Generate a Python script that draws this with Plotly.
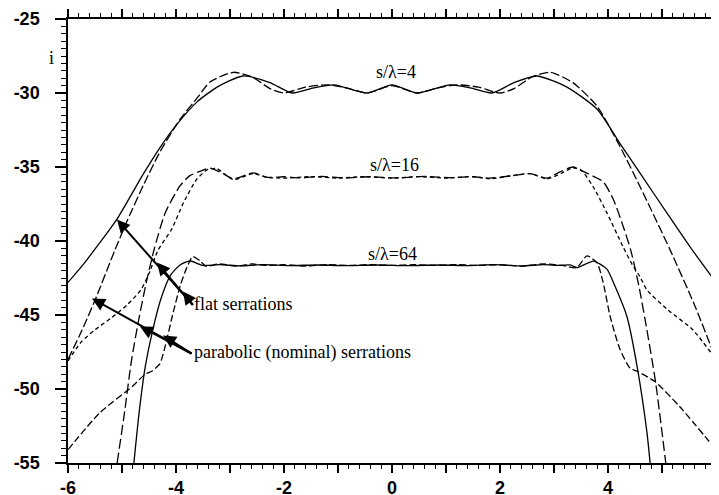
import plotly.graph_objects as go

# s/lambda = 4, flat serrations (solid)
a_x = [-6, -5.72, -5.47, -5.09, -4.61, -4.3, -3.98, -3.61, -3.24, -2.76, -2.26, -1.85, -1.45, -1.07, -0.46, 0, 0.46, 1.07, 1.45, 1.85, 2.26, 2.68, 3.24, 3.8, 4.22, 4.59, 5.09, 5.52, 6]
a_y = [-42.8, -41.6, -40.4, -38.5, -35.5, -33.7, -32.1, -30.6, -29.6, -28.85, -29.3, -30.0, -29.65, -29.45, -30.0, -29.45, -30.0, -29.45, -29.65, -30.0, -29.3, -28.85, -29.6, -31.1, -33.4, -35.4, -38.1, -40.4, -42.8]

# s/lambda = 4, parabolic serrations (long dash)
b_x = [-6, -5.75, -5.5, -5.13, -4.9, -4.6, -4.3, -3.93, -3.6, -3.37, -2.94, -2.6, -2.26, -2.0, -1.6, -1.2, -0.85, -0.46, 0, 0.46, 0.85, 1.2, 1.6, 2.0, 2.26, 2.6, 2.93, 3.35, 3.8, 4.22, 4.59, 5.15, 5.6, 6]
b_y = [-48.0, -46.1, -44.0, -40.6, -38.6, -36.2, -34.0, -31.8, -30.3, -29.25, -28.6, -28.9, -29.7, -30.0, -29.6, -29.45, -29.65, -30.0, -29.5, -30.0, -29.65, -29.45, -29.6, -30.0, -29.7, -28.9, -28.6, -29.3, -30.9, -33.6, -36.3, -40.6, -44.3, -48.0]

# s/lambda = 16, short dash
c_x = [-6, -5.75, -5.5, -5.2, -4.9, -4.65, -4.5, -4.33, -4.08, -3.86, -3.62, -3.43, -3.25, -2.94, -2.57, -2.31, -2.0, -1.5, -1.0, -0.5, 0, 0.5, 1.0, 1.5, 1.81, 2.2, 2.56, 2.87, 3.15, 3.35, 3.5, 3.72, 3.98, 4.28, 4.45, 4.59, 4.72, 5.09, 5.57, 6]
c_y = [-48.1, -46.8, -46.0, -45.2, -44.3, -43.3, -42.2, -40.6, -39.2, -37.4, -35.85, -35.2, -35.1, -35.85, -35.45, -35.7, -35.75, -35.65, -35.75, -35.65, -35.75, -35.65, -35.75, -35.65, -35.8, -35.6, -35.45, -35.8, -35.4, -35.05, -35.2, -36.3, -38.1, -40.4, -41.6, -42.4, -43.3, -44.6, -46.0, -48.0]

# s/lambda = 16, long dash (steep)
e_x = [-5.09, -4.95, -4.83, -4.7, -4.55, -4.4, -4.2, -3.93, -3.75, -3.56, -3.37, -3.15, -2.94, -2.57, -2.31, -2.0, -1.7, -1.3, -0.9, -0.4, 0.1, 0.6, 1.1, 1.5, 1.81, 2.2, 2.56, 2.87, 3.1, 3.35, 3.54, 3.91, 4.1, 4.28, 4.42, 4.57, 4.72, 4.88, 5.07]
e_y = [-55, -51.5, -48.2, -45.5, -42.8, -40.5, -38.1, -36.3, -35.6, -35.3, -35.07, -35.4, -35.8, -35.4, -35.7, -35.66, -35.74, -35.64, -35.74, -35.66, -35.74, -35.64, -35.72, -35.66, -35.75, -35.6, -35.45, -35.75, -35.35, -35.0, -35.3, -36.0, -37.2, -39.0, -40.6, -43.0, -46.0, -49.5, -55]

# s/lambda = 64, dashed with knee
d_x = [-6, -5.41, -4.8, -4.57, -4.45, -4.3, -4.2, -4.05, -3.92, -3.8, -3.69, -3.55, -3.45, -3.2, -2.9, -2.6, -2.3, -2.0, -1.6, -1.2, -0.8, -0.4, 0, 0.4, 0.8, 1.2, 1.6, 2.0, 2.4, 2.8, 3.15, 3.42, 3.61, 3.8, 3.91, 4.04, 4.22, 4.41, 4.54, 4.87, 5.33, 6]
d_y = [-54.1, -51.6, -49.8, -49.0, -48.8, -48.3, -47.1, -44.8, -43.0, -41.8, -41.05, -41.35, -41.7, -41.55, -41.7, -41.55, -41.65, -41.6, -41.7, -41.6, -41.65, -41.6, -41.65, -41.6, -41.65, -41.6, -41.65, -41.6, -41.7, -41.55, -41.65, -41.8, -41.0, -41.5, -42.8, -45.1, -47.3, -48.6, -48.8, -49.5, -51.2, -54.1]

# s/lambda = 64, solid (steep)
f_x = [-4.78, -4.68, -4.57, -4.43, -4.27, -4.1, -3.92, -3.74, -3.5, -3.2, -2.8, -2.4, -1.9, -1.4, -0.9, -0.3, 0.3, 0.9, 1.4, 1.9, 2.4, 2.8, 3.1, 3.3, 3.43, 3.73, 3.98, 4.1, 4.35, 4.54, 4.72, 4.78]
f_y = [-55, -51.5, -48.5, -46.0, -43.8, -42.3, -41.6, -41.35, -41.65, -41.6, -41.68, -41.6, -41.66, -41.62, -41.66, -41.62, -41.66, -41.62, -41.66, -41.6, -41.68, -41.6, -41.65, -41.62, -41.8, -41.36, -41.9, -42.8, -45.1, -48.5, -52.9, -55]

x_tickvals = [-6, -5, -4, -3, -2, -1, 0, 1, 2, 3, 4, 5, 6]
x_ticktext = ["-6", "", "-4", "", "-2", "", "0", "", "2", "", "4", "", "6"]
y_tickvals = [-55, -50, -45, -40, -35, -30, -25]
y_ticktext = ["-55", "-50", "-45", "-40", "-35", "-30", "-25"]

curve_labels = ["s/λ=4", "s/λ=16", "s/λ=64"]
label_x = [0.07, 0.04, 0.0]
label_y = [-28.55, -34.85, -40.9]

flat_tail = (-3.667, -44.42)
flat_tips_x = [-5.093, -4.352, -3.87]
flat_tips_y = [-38.55, -41.45, -43.41]
para_tail = (-3.685, -47.66)
para_tips_x = [-5.556, -4.667, -4.241]
para_tips_y = [-43.88, -45.77, -46.38]

fig = go.Figure()

def add(x, y, dash):
    fig.add_trace(go.Scatter(x=x, y=y, mode="lines",
                             line=dict(color="black", width=1.3, dash=dash,
                                       shape="spline", smoothing=0.6),
                             showlegend=False, hoverinfo="skip"))

add(a_x, a_y, "solid")
add(b_x, b_y, "9px,3px")
add(c_x, c_y, "4px,3px")
add(e_x, e_y, "10px,4px")
add(d_x, d_y, "7px,3px")
add(f_x, f_y, "solid")

serif = "Liberation Serif, Times New Roman, serif"
ann = []
for t, x, y in zip(curve_labels, label_x, label_y):
    ann.append(dict(x=x, y=y, text=t, showarrow=False, xref="x", yref="y",
                    font=dict(family=serif, size=18, color="black")))
for tx, ty in zip(flat_tips_x, flat_tips_y):
    ann.append(dict(x=tx, y=ty, ax=flat_tail[0], ay=flat_tail[1], xref="x", yref="y",
                    axref="x", ayref="y", text="", showarrow=True, arrowhead=2,
                    arrowsize=1.3, arrowwidth=2, arrowcolor="black"))
for tx, ty in zip(para_tips_x, para_tips_y):
    ann.append(dict(x=tx, y=ty, ax=para_tail[0], ay=para_tail[1], xref="x", yref="y",
                    axref="x", ayref="y", text="", showarrow=True, arrowhead=2,
                    arrowsize=1.3, arrowwidth=2, arrowcolor="black"))
ann.append(dict(x=-3.70, y=-44.29, text="flat serrations", showarrow=False,
                xanchor="left", xref="x", yref="y",
                font=dict(family=serif, size=18, color="black")))
ann.append(dict(x=-3.70, y=-47.52, text="parabolic (nominal) serrations", showarrow=False,
                xanchor="left", xref="x", yref="y",
                font=dict(family=serif, size=18, color="black")))
ann.append(dict(x=-0.0247, y=-27.63, text="i", showarrow=False, xref="paper", yref="y",
                xanchor="center", yanchor="middle",
                font=dict(family=serif, size=18, color="black")))

tickfont = dict(family="Liberation Sans, Arial, sans-serif", size=18, color="black", weight="bold")

# page body has an 8px default margin, so the figure is 8px smaller than the window
fig.update_layout(
    width=711, height=487,
    margin=dict(l=60, r=3, t=11, b=32),
    paper_bgcolor="white", plot_bgcolor="white",
    annotations=ann,
    xaxis=dict(range=[-6, 6], tickvals=x_tickvals, ticktext=x_ticktext,
               ticks="outside", ticklen=8, tickwidth=1.5, tickcolor="black",
               automargin=False, ticklabeloverflow="allow",
               showline=True, linecolor="black", linewidth=1.5, mirror="allticks",
               showgrid=False, zeroline=False, tickfont=tickfont,
               minor=dict(dtick=0.2, ticks="outside", ticklen=4, tickwidth=1.2, tickcolor="black", showgrid=False)),
    yaxis=dict(range=[-55, -25], tickvals=y_tickvals, ticktext=y_ticktext,
               ticks="outside", ticklen=11, tickwidth=1.5, tickcolor="black",
               ticklabelstandoff=12, automargin=False,
               showline=True, linecolor="black", linewidth=1.5, mirror="allticks",
               showgrid=False, zeroline=False, tickfont=tickfont,
               minor=dict(dtick=0.5, ticks="outside", ticklen=5, tickwidth=1.2, tickcolor="black", showgrid=False)),
)

fig.write_html("out.html")
